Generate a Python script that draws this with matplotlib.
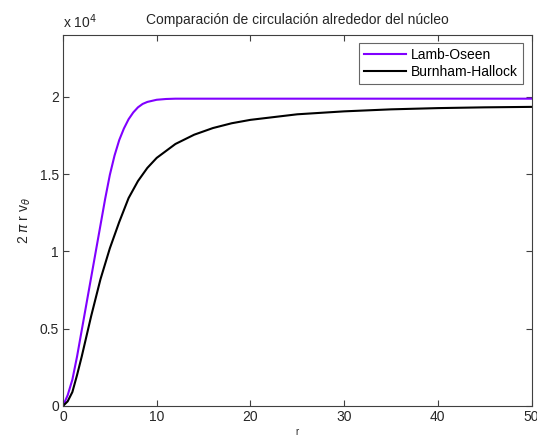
import matplotlib
matplotlib.use('Agg')
import matplotlib.pyplot as plt
from matplotlib.ticker import FuncFormatter

plt.rcParams['font.family'] = ['Liberation Sans', 'DejaVu Sans']
plt.rcParams['mathtext.fontset'] = 'dejavusans'

# Radio y circulacion de cada modelo de vortice
r_lamb = [0, 0.5, 1, 1.5, 2, 2.5, 3, 3.5, 4, 4.5, 5, 5.5, 6, 6.5, 7, 7.5,
          8, 8.5, 9, 10, 11, 12, 20, 30, 40, 50]
circ_lamb = [0, 700, 1700, 3200, 4900, 6600, 8300, 10000, 11700, 13400,
             14950, 16200, 17200, 17950, 18550, 18990, 19320, 19540, 19670,
             19810, 19860, 19880, 19880, 19880, 19880, 19880]

r_bh = [0, 0.5, 1, 1.5, 2, 2.5, 3, 3.5, 4, 4.5, 5, 6, 7, 8, 9, 10, 12, 14,
        16, 18, 20, 25, 30, 35, 40, 45, 50]
circ_bh = [0, 300, 900, 2000, 3200, 4500, 5800, 7000, 8200, 9200, 10200,
           11900, 13450, 14550, 15400, 16050, 16950, 17550, 17980, 18290,
           18510, 18870, 19060, 19190, 19270, 19320, 19350]

y_ticks = [0, 5000, 10000, 15000, 20000]
x_ticks = [0, 10, 20, 30, 40, 50]

fig = plt.figure(figsize=(5.37, 4.38), dpi=100)
ax = fig.add_axes([0.1173, 0.0731, 0.8725, 0.8470])

ax.plot(r_lamb, circ_lamb, color='#8000ff', lw=1.5, label='Lamb-Oseen')
ax.plot(r_bh, circ_bh, color='black', lw=1.5, label='Burnham-Hallock')

ax.set_xlim(0, 50)
ax.set_ylim(0, 24000)
ax.set_xticks(x_ticks)
ax.set_yticks(y_ticks)
ax.yaxis.set_major_formatter(FuncFormatter(lambda v, p: '%g' % (v / 1e4)))

gris = '#404040'
for s in ax.spines.values():
    s.set_color(gris)
    s.set_linewidth(0.8)
ax.tick_params(direction='in', length=4, width=0.8, color=gris,
               labelcolor='#262626', labelsize=10, top=True, right=True, pad=3)

ax.text(0, 1.012, r'x 10$^{4}$', transform=ax.transAxes, fontsize=10,
        color='#262626', ha='left', va='bottom')
ax.set_title('Comparación de circulación alrededor del núcleo', fontsize=10,
             color='#262626', pad=8)
ax.set_ylabel(r'2 $\pi$ r v$_\theta$', fontsize=10, color='#262626', labelpad=5)
ax.set_xlabel('r', fontsize=7, color='#262626', labelpad=2)

leg = ax.legend(loc='upper right', fontsize=10, frameon=True, fancybox=False,
                edgecolor=gris, borderpad=0.35, handlelength=3.0,
                handletextpad=0.4, labelspacing=0.2, borderaxespad=0.6)
leg.get_frame().set_linewidth(0.8)

fig.savefig('out.png', dpi=100)
